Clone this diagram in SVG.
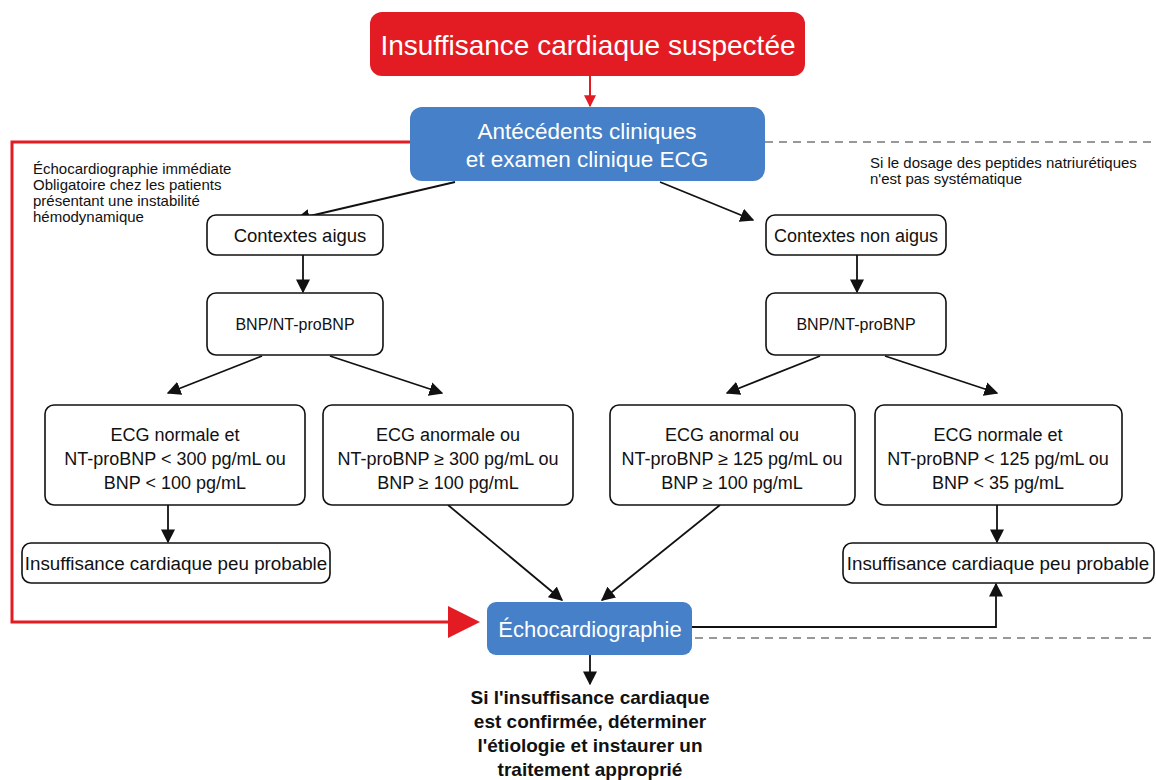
<svg xmlns="http://www.w3.org/2000/svg" width="1156" height="780" viewBox="0 0 1156 780">
<defs>
<style>
.t{font-family:"Liberation Sans",Arial,sans-serif;fill:#111;text-anchor:middle}
.w{fill:#fff}
.box{fill:#fff;stroke:#111;stroke-width:1.6}
.blue{fill:#4580c8}
.red{fill:#e31b23}
.c{fill:none;stroke:#111;stroke-width:1.8}
.note{font-family:"Liberation Sans",Arial,sans-serif;font-size:15px;fill:#111}
.b{font-size:18px}
</style>
<marker id="ahb" viewBox="0 0 10 10" refX="9" refY="5" markerWidth="14" markerHeight="14" markerUnits="userSpaceOnUse" orient="auto"><path d="M0,0 L10,5 L0,10 z" fill="#111"/></marker>
<marker id="ahr" viewBox="0 0 10 10" refX="9" refY="5" markerWidth="12" markerHeight="12" markerUnits="userSpaceOnUse" orient="auto"><path d="M0,0 L10,5 L0,10 z" fill="#e31b23"/></marker>
</defs>
<rect width="1156" height="780" fill="#fff"/>
<g id="connectors">
<line x1="590" y1="76" x2="590" y2="106" stroke="#e31b23" stroke-width="2" marker-end="url(#ahr)"/>
<polyline points="410,142 12,142 12,622 452,622" fill="none" stroke="#e31b23" stroke-width="3"/>
<path d="M448,606 L480,622 L448,638 z" fill="#e31b23"/>
<line x1="765" y1="142" x2="1156" y2="142" stroke="#777" stroke-width="1.5" stroke-dasharray="8,6"/>
<line x1="695" y1="638" x2="1156" y2="638" stroke="#777" stroke-width="1.5" stroke-dasharray="8,6"/>
<line x1="455" y1="182" x2="297" y2="219" class="c" marker-end="url(#ahb)"/>
<line x1="660" y1="182" x2="753" y2="220" class="c" marker-end="url(#ahb)"/>
<line x1="303" y1="255" x2="303" y2="292" class="c" marker-end="url(#ahb)"/>
<line x1="857" y1="255" x2="857" y2="292" class="c" marker-end="url(#ahb)"/>
<line x1="262" y1="356" x2="168" y2="393" class="c" marker-end="url(#ahb)"/>
<line x1="330" y1="356" x2="442" y2="393" class="c" marker-end="url(#ahb)"/>
<line x1="820" y1="356" x2="727" y2="393" class="c" marker-end="url(#ahb)"/>
<line x1="885" y1="356" x2="997" y2="393" class="c" marker-end="url(#ahb)"/>
<line x1="168" y1="505" x2="168" y2="542" class="c" marker-end="url(#ahb)"/>
<line x1="997" y1="505" x2="997" y2="542" class="c" marker-end="url(#ahb)"/>
<line x1="448" y1="505" x2="562" y2="600" class="c" marker-end="url(#ahb)"/>
<line x1="720" y1="505" x2="602" y2="600" class="c" marker-end="url(#ahb)"/>
<polyline points="692,627 996,627 996,584" class="c" marker-end="url(#ahb)"/>
<line x1="590" y1="655" x2="590" y2="684" class="c" marker-end="url(#ahb)"/>
</g>
<g id="suspectee">
<rect x="370" y="12" width="435" height="64" rx="12" class="red"/>
<text x="588" y="55" class="t w" font-size="28">Insuffisance cardiaque suspectée</text>
</g>
<g id="antecedents">
<rect x="410" y="107" width="355" height="74" rx="12" class="blue"/>
<text x="587" y="139" class="t w" font-size="22.5">Antécédents cliniques</text>
<text x="587" y="167" class="t w" font-size="22.5">et examen clinique ECG</text>
</g>
<g id="note-left">
<text x="33" y="174" class="note">Échocardiographie immédiate</text>
<text x="33" y="190" class="note">Obligatoire chez les patients</text>
<text x="33" y="206" class="note">présentant une instabilité</text>
<text x="33" y="222" class="note">hémodynamique</text>
</g>
<g id="note-right">
<text x="870" y="168" class="note">Si le dosage des peptides natriurétiques</text>
<text x="870" y="184" class="note">n'est pas systématique</text>
</g>
<g id="aigus">
<rect x="207" y="215" width="176" height="40" rx="9" class="box"/>
<text x="300" y="242" class="t" font-size="18.5">Contextes aigus</text>
</g>
<g id="nonaigus">
<rect x="766" y="215" width="180" height="40" rx="9" class="box"/>
<text x="856" y="242" class="t" font-size="18">Contextes non aigus</text>
</g>
<g id="bnp-left">
<rect x="207" y="293" width="176" height="62" rx="9" class="box"/>
<text x="295" y="330" class="t" font-size="16">BNP/NT-proBNP</text>
</g>
<g id="bnp-right">
<rect x="766" y="293" width="180" height="62" rx="9" class="box"/>
<text x="856" y="330" class="t" font-size="16">BNP/NT-proBNP</text>
</g>
<g id="box-a">
<rect x="45" y="405" width="260" height="100" rx="9" class="box"/>
<text x="175" y="441" class="t b">ECG normale et</text>
<text x="175" y="465" class="t b">NT-proBNP &lt; 300 pg/mL ou</text>
<text x="175" y="489" class="t b">BNP &lt; 100 pg/mL</text>
</g>
<g id="box-b">
<rect x="323" y="405" width="250" height="100" rx="9" class="box"/>
<text x="448" y="441" class="t b">ECG anormale ou</text>
<text x="448" y="465" class="t b">NT-proBNP ≥ 300 pg/mL ou</text>
<text x="448" y="489" class="t b">BNP ≥ 100 pg/mL</text>
</g>
<g id="box-c">
<rect x="610" y="405" width="245" height="100" rx="9" class="box"/>
<text x="732" y="441" class="t b">ECG anormal ou</text>
<text x="732" y="465" class="t b">NT-proBNP ≥ 125 pg/mL ou</text>
<text x="732" y="489" class="t b">BNP ≥ 100 pg/mL</text>
</g>
<g id="box-d">
<rect x="875" y="405" width="247" height="100" rx="9" class="box"/>
<text x="998" y="441" class="t b">ECG normale et</text>
<text x="998" y="465" class="t b">NT-proBNP &lt; 125 pg/mL ou</text>
<text x="998" y="489" class="t b">BNP &lt; 35 pg/mL</text>
</g>
<g id="peu-left">
<rect x="22" y="543" width="308" height="40" rx="9" class="box"/>
<text x="176" y="570" class="t" font-size="18.8">Insuffisance cardiaque peu probable</text>
</g>
<g id="peu-right">
<rect x="843" y="543" width="311" height="40" rx="9" class="box"/>
<text x="998" y="570" class="t" font-size="18.8">Insuffisance cardiaque peu probable</text>
</g>
<g id="echo">
<rect x="487" y="602" width="205" height="53" rx="9" class="blue"/>
<text x="590" y="637" class="t w" font-size="22">Échocardiographie</text>
</g>
<g id="conclusion">
<text x="590" y="704" class="t" font-size="19" font-weight="bold">Si l'insuffisance cardiaque</text>
<text x="590" y="728" class="t" font-size="19" font-weight="bold">est confirmée, déterminer</text>
<text x="590" y="752" class="t" font-size="19" font-weight="bold">l'étiologie et instaurer un</text>
<text x="590" y="776" class="t" font-size="19" font-weight="bold">traitement approprié</text>
</g>
</svg>
